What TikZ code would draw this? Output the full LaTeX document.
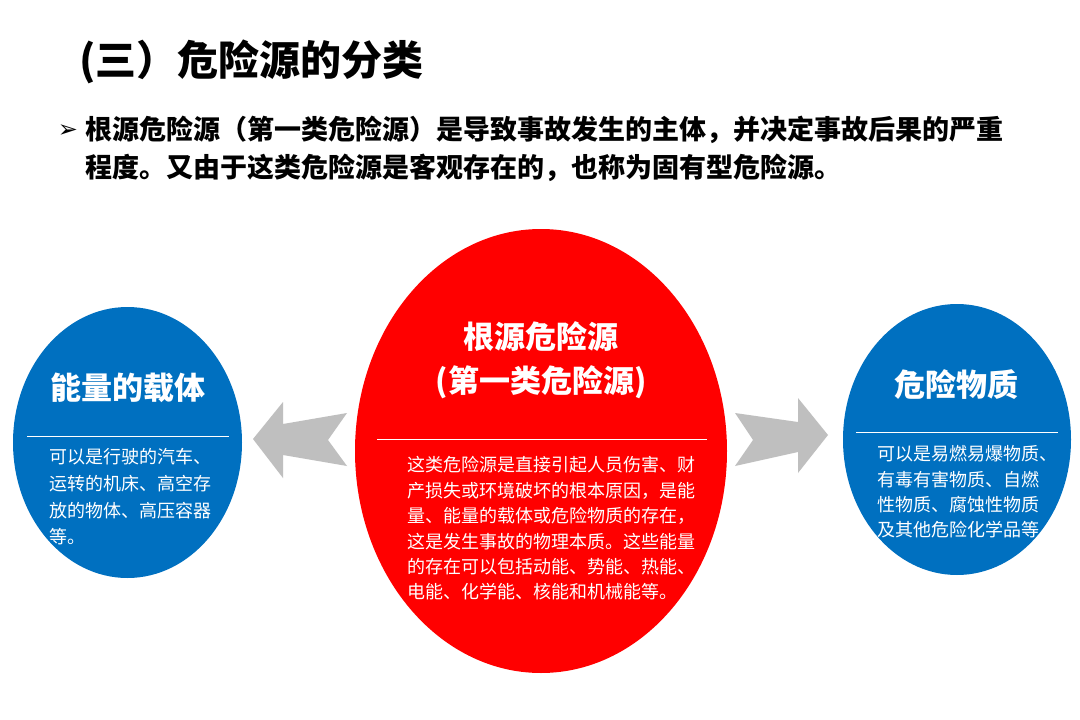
\documentclass[tikz,border=0pt]{standalone}
\usepackage{fontspec}
\setmainfont{Noto Sans CJK SC}
\newfontfamily\dejavu{DejaVu Sans}
\definecolor{hzred}{HTML}{FF0000}
\definecolor{hzblue}{HTML}{0070C0}
\definecolor{hzgray}{HTML}{BFBFBF}
\tikzset{
  ttl/.style={inner sep=0pt, font=\fontsize{41}{48}\selectfont\bfseries, text=black},
  lead/.style={inner sep=0pt, align=left, font=\fontsize{27}{38}\selectfont\bfseries, text=black},
  ctitle/.style={inner sep=0pt, align=center, text=white, font=\fontsize{31}{44}\selectfont\bfseries},
  cbody/.style={inner sep=0pt, align=left, text=white},
  divider/.style={draw=white, line width=1pt},
  blockarrow/.style={fill=hzgray, draw=none},
}
\begin{document}
\begin{tikzpicture}[x=1pt,y=-1pt]
\useasboundingbox (0,0) rectangle (1080,720);
\fill[white] (0,0) rectangle (1080,720);

% title
\node[ttl, anchor=west] (title) at (79,62) {(三）危险源的分类};
\node[inner sep=0pt, font=\dejavu\fontsize{24}{24}\selectfont] (bullet) at (68,131) {➢};
\node[lead, anchor=west] (lead) at (85,149) {根源危险源（第一类危险源）是导致事故发生的主体，并决定事故后果的严重\\程度。又由于这类危险源是客观存在的，也称为固有型危险源。};

% ellipses
\fill[hzred] (541,451) ellipse [x radius=186, y radius=222];
\fill[hzblue] (127.5,442.5) ellipse [x radius=114.5, y radius=135.5];
\fill[hzblue] (957,439.5) ellipse [x radius=114, y radius=135.5];

% arrows
\fill[blockarrow] (253,439) -- (283,402) -- (283,424) -- (347,413) -- (328,440) -- (347,466) -- (283,455) -- (283,478) -- cycle;
\fill[blockarrow] (828,435) -- (798,398) -- (798,422) -- (735,413) -- (753,440) -- (735,466) -- (798,452) -- (798,473) -- cycle;

% centre
\node[ctitle] (ctitle) at (541,360) {根源危险源\\(第一类危险源)};
\coordinate (cl1) at (377,439);
\coordinate (cl2) at (707,439);
\draw[divider] (cl1) -- (cl2);
\node[cbody, anchor=west, font=\fontsize{18}{25.4}\selectfont] (cbody) at (407,528.5) {这类危险源是直接引起人员伤害、财\\产损失或环境破坏的根本原因，是能\\量、能量的载体或危险物质的存在，\\这是发生事故的物理本质。这些能量\\的存在可以包括动能、势能、热能、\\电能、化学能、核能和机械能等。};

% left
\node[ctitle] (ltitle) at (127.5,388) {能量的载体};
\coordinate (ll1) at (27,436);
\coordinate (ll2) at (229,436);
\draw[divider] (ll1) -- (ll2);
\node[cbody, anchor=west, font=\fontsize{18}{26.7}\selectfont] (lbody) at (49,497) {可以是行驶的汽车、\\运转的机床、高空存\\放的物体、高压容器\\等。};

% right
\node[ctitle] (rtitle) at (956,385) {危险物质};
\coordinate (rl1) at (856,432);
\coordinate (rl2) at (1058,432);
\draw[divider] (rl1) -- (rl2);
\node[cbody, anchor=west, font=\fontsize{18}{25.3}\selectfont] (rbody) at (877,492) {可以是易燃易爆物质、\\有毒有害物质、自燃\\性物质、腐蚀性物质\\及其他危险化学品等};
\end{tikzpicture}
\end{document}
